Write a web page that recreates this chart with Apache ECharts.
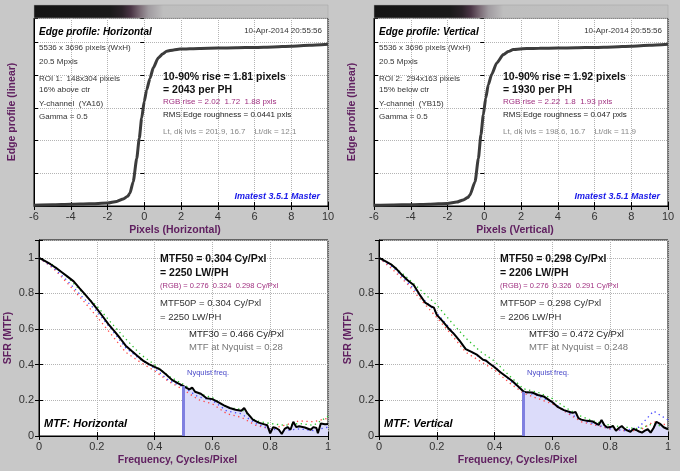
<!DOCTYPE html>
<html><head><meta charset="utf-8">
<script src="https://cdn.jsdelivr.net/npm/echarts@6/dist/echarts.min.js"></script>
<style>html,body{margin:0;padding:0;background:#c8c8c8}#c{width:680px;height:471px}</style>
</head><body><div id="c"></div>
<script>
// ---------- data ----------
const edgeXH = [-6,-5,-4,-3,-2,-1.5,-1.14,-0.9,-0.78,-0.6,-0.41,-0.27,-0.14,0,0.13,0.31,0.49,0.76,1.0,1.22,1.6,1.95,3,4,5,6,7,8,9,10];
const edgeH  = [0.005,0.007,0.01,0.013,0.018,0.028,0.043,0.06,0.078,0.149,0.29,0.415,0.538,0.64,0.71,0.78,0.845,0.906,0.93,0.947,0.955,0.96,0.964,0.966,0.968,0.97,0.973,0.977,0.983,0.99];
const edgeXV = [-6,-5,-4,-3,-2,-1.5,-1.14,-0.9,-0.78,-0.5,-0.32,-0.18,-0.05,0.08,0.22,0.4,0.68,1.04,1.3,1.58,2.31,3,4,5,6,7,8,9,10];
const edgeV  = [0.004,0.006,0.008,0.011,0.016,0.024,0.037,0.052,0.067,0.149,0.29,0.436,0.558,0.66,0.742,0.804,0.875,0.926,0.945,0.957,0.963,0.965,0.966,0.968,0.97,0.973,0.977,0.983,0.99];

const mtfFreqH = [0,0.02,0.04,0.06,0.08,0.10,0.12,0.14,0.16,0.18,0.20,0.22,0.24,0.26,0.28,0.30,0.32,0.34,0.36,0.38,0.40,0.42,0.44,0.46,0.48,0.50,0.52,0.53,0.54,0.56,0.58,0.60,0.62,0.64,0.66,0.68,0.70,0.71,0.72,0.74,0.76,0.78,0.79,0.80,0.81,0.82,0.83,0.84,0.85,0.86,0.87,0.88,0.89,0.90,0.92,0.94,0.95,0.96,0.965,0.975,0.99,1.0];
const mtfH = [1.0,0.983,0.964,0.942,0.918,0.893,0.868,0.83,0.793,0.755,0.715,0.672,0.628,0.59,0.55,0.507,0.478,0.45,0.423,0.403,0.388,0.372,0.345,0.315,0.297,0.28,0.262,0.272,0.248,0.237,0.212,0.207,0.19,0.172,0.157,0.147,0.142,0.157,0.13,0.092,0.075,0.065,0.06,0.015,0.05,0.045,0.035,0.011,0.04,0.05,0.035,0.08,0.05,0.055,0.048,0.035,0.05,0.045,0.015,0.07,0.066,0.068];

const mtfFreqV = [0,0.02,0.04,0.06,0.08,0.10,0.12,0.14,0.16,0.18,0.19,0.20,0.22,0.24,0.26,0.28,0.30,0.32,0.34,0.36,0.37,0.38,0.40,0.42,0.44,0.46,0.48,0.50,0.51,0.53,0.55,0.57,0.59,0.60,0.62,0.64,0.66,0.67,0.68,0.69,0.70,0.72,0.74,0.76,0.77,0.78,0.79,0.80,0.81,0.82,0.83,0.84,0.85,0.86,0.87,0.88,0.89,0.90,0.91,0.92,0.93,0.94,0.95,0.96,0.965,0.975,0.985,1.0];
const mtfV = [1.0,0.983,0.965,0.938,0.903,0.873,0.847,0.795,0.748,0.728,0.72,0.68,0.645,0.605,0.572,0.532,0.488,0.472,0.455,0.428,0.424,0.41,0.386,0.358,0.334,0.31,0.28,0.25,0.245,0.244,0.23,0.222,0.2,0.19,0.162,0.145,0.135,0.13,0.135,0.1,0.092,0.085,0.081,0.062,0.09,0.06,0.048,0.05,0.056,0.03,0.045,0.056,0.04,0.03,0.024,0.04,0.034,0.025,0.019,0.03,0.038,0.019,0.045,0.08,0.086,0.065,0.049,0.038];

const rgbFreq = [0,0.05,0.1,0.15,0.2,0.25,0.3,0.35,0.4,0.45,0.5,0.55,0.6,0.65,0.7,0.75,0.8,0.85,0.9,0.95,1.0];
const mtfRH = [1,0.94,0.855,0.765,0.67,0.57,0.47,0.415,0.365,0.305,0.26,0.205,0.18,0.125,0.105,0.06,0.04,0.06,0.085,0.08,0.1];
const mtfGH = [1,0.958,0.89,0.805,0.73,0.635,0.545,0.46,0.4,0.335,0.29,0.24,0.215,0.16,0.15,0.085,0.07,0.06,0.07,0.06,0.11];
const mtfBH = [1,0.945,0.868,0.78,0.7,0.6,0.495,0.43,0.38,0.31,0.275,0.22,0.2,0.14,0.125,0.07,0.04,0.03,0.04,0.03,0.05];
const mtfRV = [1,0.93,0.85,0.755,0.665,0.57,0.47,0.42,0.37,0.3,0.24,0.21,0.18,0.13,0.08,0.06,0.04,0.03,0.03,0.08,0.06];
const mtfGV = [1,0.955,0.885,0.81,0.735,0.64,0.55,0.475,0.42,0.34,0.265,0.245,0.21,0.155,0.11,0.08,0.06,0.05,0.04,0.07,0.04];
const mtfBV = [1,0.945,0.86,0.775,0.69,0.595,0.49,0.44,0.39,0.315,0.25,0.225,0.19,0.135,0.09,0.065,0.04,0.03,0.05,0.14,0.09];

const nyquistFreq = 0.5;
const nyquistMtf = [0.28, 0.248];

const edgeTitles = ['Edge profile: Horizontal', 'Edge profile: Vertical'];
const edgeXNames = ['Pixels (Horizontal)', 'Pixels (Vertical)'];
const timestamp = '10-Apr-2014 20:55:56';
const infoLines = [
  ['5536 x 3696 pixels (WxH)','20.5 Mpxls','ROI 1:  148x304 pixels','16% above ctr','Y-channel  (YA16)','Gamma = 0.5'],
  ['5536 x 3696 pixels (WxH)','20.5 Mpxls','ROI 2:  294x163 pixels','15% below ctr','Y-channel  (YB15)','Gamma = 0.5']
];
const riseBold = [['10-90% rise = 1.81 pixels','= 2043 per PH'],['10-90% rise = 1.92 pixels','= 1930 per PH']];
const rgbRise = ['RGB rise = 2.02  1.72  1.88 pxls','RGB rise = 2.22  1.8  1.93 pxls'];
const roughness = ['RMS Edge roughness = 0.0441 pxls','RMS Edge roughness = 0.047 pxls'];
const levels = ['Lt, dk lvls = 201.9, 16.7    Lt/dk = 12.1','Lt, dk lvls = 198.6, 16.7    Lt/dk = 11.9'];
const brand = 'Imatest 3.5.1 Master';
const mtf50Bold = [['MTF50 = 0.304 Cy/Pxl','= 2250 LW/PH'],['MTF50 = 0.298 Cy/Pxl','= 2206 LW/PH']];
const mtfRgb = ['(RGB) = 0.276  0.324  0.298 Cy/Pxl','(RGB) = 0.276  0.326  0.291 Cy/Pxl'];
const mtf50p = [['MTF50P = 0.304 Cy/Pxl','= 2250 LW/PH'],['MTF50P = 0.298 Cy/Pxl','= 2206 LW/PH']];
const mtf30 = ['MTF30 = 0.466 Cy/Pxl','MTF30 = 0.472 Cy/Pxl'];
const mtfNyq = ['MTF at Nyquist = 0.28','MTF at Nyquist = 0.248'];
const mtfTitles = ['MTF: Horizontal','MTF: Vertical'];

// ---------- chart ----------
const FF = 'Liberation Sans, Arial, sans-serif';
const PURPLE = '#602060';
const grids = [
  {left:34, top:18, width:294, height:188},
  {left:374, top:18, width:294, height:188},
  {left:39, top:240, width:289, height:196},
  {left:379, top:240, width:289, height:196}
];
grids.forEach(g => { g.show = true; g.backgroundColor = '#fff'; g.borderColor = '#000'; g.borderWidth = 1; g.containLabel = false; });

const xAxis = [], yAxis = [];
function addAxes(gi, xr, yr, xName, yName, yLabels, yGap) {
  const tick = {show:true, inside:true, length:4, lineStyle:{color:'#000'}};
  const split = {show:true, lineStyle:{color:'#b4b4b4', type:'dotted'}};
  xAxis.push({type:'value', gridIndex:gi, min:xr[0], max:xr[1], interval:xr[2], position:'bottom',
    axisLine:{show:true, onZero:false, lineStyle:{color:'#000'}}, axisTick:tick, splitLine:split,
    axisLabel:{show:true, color:'#333', fontSize:11, fontFamily:FF, margin:5},
    name:xName, nameLocation:'middle', nameGap:19,
    nameTextStyle:{color:PURPLE, fontWeight:'bold', fontSize:10.5, fontFamily:FF, padding:[0,12,0,0]}});
  xAxis.push({type:'value', gridIndex:gi, min:xr[0], max:xr[1], interval:xr[2], position:'top',
    axisLine:{show:false}, axisTick:tick, splitLine:{show:false}, axisLabel:{show:false}});
  yAxis.push({type:'value', gridIndex:gi, min:yr[0], max:yr[1], interval:yr[2], position:'left',
    axisLine:{show:true, onZero:false, lineStyle:{color:'#000'}}, axisTick:tick, splitLine:split,
    axisLabel:{show:yLabels, color:'#333', fontSize:11, fontFamily:FF, margin:5,
      formatter: v => (Math.abs(Math.round(v/yr[2])*yr[2]-v) < 1e-6 ? String(+v.toFixed(1)) : '')},
    name:yName, nameLocation:'middle', nameGap:yGap, nameRotate:90,
    nameTextStyle:{color:PURPLE, fontWeight:'bold', fontSize:10.5, fontFamily:FF}});
  yAxis.push({type:'value', gridIndex:gi, min:yr[0], max:yr[1], interval:yr[2], position:'right',
    axisLine:{show:false}, axisTick:tick, splitLine:{show:false}, axisLabel:{show:false}});
}
addAxes(0, [-6,10,2], [0,1.15,0.2], edgeXNames[0], 'Edge profile (linear)', false, 16);
addAxes(1, [-6,10,2], [0,1.15,0.2], edgeXNames[1], 'Edge profile (linear)', false, 16);
addAxes(2, [0,1,0.2], [0,1.1,0.2], 'Frequency, Cycles/Pixel', 'SFR (MTF)', true, 25);
addAxes(3, [0,1,0.2], [0,1.1,0.2], 'Frequency, Cycles/Pixel', 'SFR (MTF)', true, 25);

const zip = (xs, ys) => xs.map((x, i) => [x, ys[i]]);
const series = [];
[[edgeXH, edgeH], [edgeXV, edgeV]].forEach(([ex, ev], k) => {
  series.push({type:'line', xAxisIndex:k*2, yAxisIndex:k*2, data:zip(ex, ev), symbol:'none',
    smooth:0.2, smoothMonotone:'x', lineStyle:{color:'#3c3c3c', width:3}, z:3, silent:true});
});
const mtfSets = [
  {f:mtfFreqH, v:mtfH, r:mtfRH, g:mtfGH, b:mtfBH},
  {f:mtfFreqV, v:mtfV, r:mtfRV, g:mtfGV, b:mtfBV}
];
mtfSets.forEach((s, k) => {
  const ai = (k + 2) * 2;
  const pts = zip(s.f, s.v);
  series.push({type:'line', xAxisIndex:ai, yAxisIndex:ai, data:pts.filter(p => p[0] >= nyquistFreq),
    symbol:'none', lineStyle:{width:0, color:'#dcdcfa'}, areaStyle:{color:'#dcdcfa', opacity:1}, z:1, silent:true,
    markLine:{symbol:'none', silent:true, label:{show:false}, lineStyle:{color:'#8080e0', width:3, type:'solid'},
      data:[[{coord:[nyquistFreq, 0]}, {coord:[nyquistFreq, nyquistMtf[k]]}]]}});
  [[s.r,'#ff4848'],[s.g,'#28c028'],[s.b,'#4848ff']].forEach(([arr, col]) => {
    series.push({type:'line', xAxisIndex:ai, yAxisIndex:ai, data:zip(rgbFreq, arr), symbol:'none',
      lineStyle:{color:col, width:1.3, type:[1.3,3.5]}, z:2, silent:true});
  });
  series.push({type:'line', xAxisIndex:ai, yAxisIndex:ai, data:pts, symbol:'none',
    lineStyle:{color:'#000', width:2}, z:4, silent:true});
});

// ---------- text / decorations ----------
const graphic = [];
function txt(x, y, text, font, fill, align) {
  graphic.push({type:'text', x:x, y:y, silent:true, z:100,
    style:{text:text, font:font + ' ' + FF, fill:fill, align:align || 'left', verticalAlign:'middle'}});
}
[0, 340].forEach((ox, k) => {
  graphic.push({type:'rect', silent:true, z:50, shape:{x:34+ox, y:5, width:294, height:13},
    style:{stroke:'#a0a0a0', lineWidth:0.5, fill:{type:'linear', x:0, y:0, x2:1, y2:0, colorStops:[
      {offset:0, color:'#141414'}, {offset:0.26, color:'#1a1a1a'}, {offset:0.3, color:'#2a2228'},
      {offset:0.33, color:'#4a3545'}, {offset:0.36, color:'#7a6a75'}, {offset:0.39, color:'#a09ba0'},
      {offset:0.44, color:'#bebebe'}, {offset:1, color:'#c2c2c2'}]}}});
  txt(39+ox, 32, edgeTitles[k], 'italic bold 10px', '#000');
  txt(322+ox, 31, timestamp, '8px', '#333', 'right');
  const ys = [48, 62, 79, 90, 104, 117];
  infoLines[k].forEach((t, i) => txt(39+ox, ys[i], t, '8px', '#333'));
  txt(163+ox, 77, riseBold[k][0], 'bold 10.5px', '#111');
  txt(163+ox, 90, riseBold[k][1], 'bold 10.5px', '#111');
  txt(163+ox, 102, rgbRise[k], '8px', '#a03080');
  txt(163+ox, 115, roughness[k], '8px', '#222');
  txt(163+ox, 132, levels[k], '8px', '#888');
  txt(320+ox, 197, brand, 'italic bold 9px', '#1818e8', 'right');

  txt(160+ox, 259, mtf50Bold[k][0], 'bold 10.5px', '#111');
  txt(160+ox, 273, mtf50Bold[k][1], 'bold 10.5px', '#111');
  txt(160+ox, 286, mtfRgb[k], '7.5px', '#a03080');
  txt(160+ox, 303, mtf50p[k][0], '9.5px', '#333');
  txt(160+ox, 317, mtf50p[k][1], '9.5px', '#333');
  txt(189+ox, 334, mtf30[k], '9.5px', '#222');
  txt(189+ox, 347, mtfNyq[k], '9.5px', '#777');
  txt(187+ox, 373, 'Nyquist freq.', '7.5px', '#4848c8');
  txt(44+ox, 424, mtfTitles[k], 'italic bold 11px', '#000');
});

const chart = echarts.init(document.getElementById('c'), null, {renderer:'canvas'});
chart.setOption({
  backgroundColor:'#c8c8c8', animation:false,
  grid:grids, xAxis:xAxis, yAxis:yAxis, series:series, graphic:graphic
});
</script></body></html>
